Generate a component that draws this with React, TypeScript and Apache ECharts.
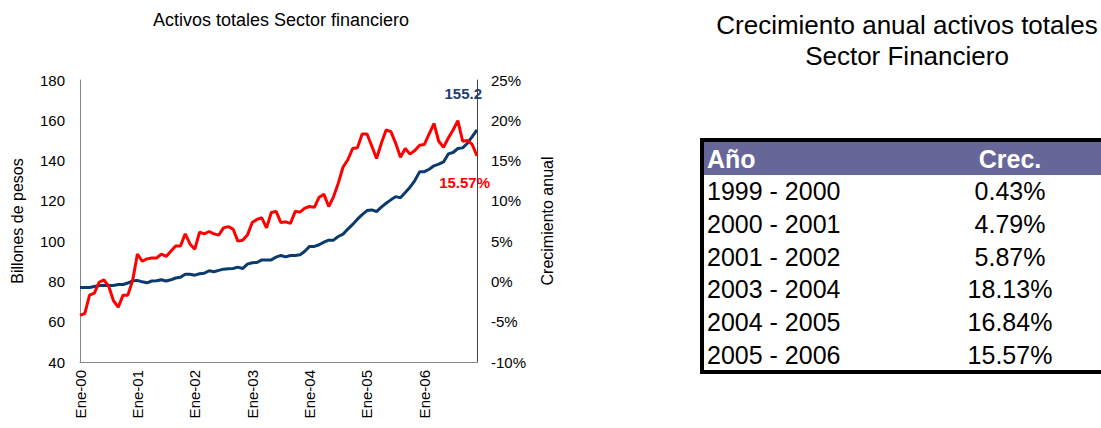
import React, { useEffect, useRef } from "react";
import * as echarts from "echarts";

const FONT = "'Liberation Sans', Arial, sans-serif";

const monthNames = ["Ene", "Feb", "Mar", "Abr", "May", "Jun", "Jul", "Ago", "Sep", "Oct", "Nov", "Dic"];
const yearSuffixes = ["00", "01", "02", "03", "04", "05", "06"];

// Activos totales (billones de pesos), mensual Ene-00 .. Dic-06
const activos = [
  77, 77, 77, 77.5, 78, 78, 78, 78, 78.5, 78.5, 79.2, 80.3,
  80.5, 79.8, 79.3, 80.2, 80.3, 80.8, 80.2, 80.8, 81.7, 82.1, 83.6, 83.6,
  83.1, 83.8, 84.1, 85.3, 84.8, 85.5, 86.1, 86.3, 86.4, 87.1, 86.4, 88.6,
  89.3, 89.4, 90.7, 90.7, 90.7, 92.1, 92.9, 92.2, 92.9, 92.9, 93.2, 95.0,
  97.4, 97.4, 98.2, 99.5, 100.5, 100.5, 102.3, 103.5, 106.0, 108.3, 110.9, 113.2,
  115.2, 115.5, 114.7, 116.9, 118.8, 120.5, 122.1, 121.5, 124.1, 126.8, 130.1, 134.4,
  134.5, 135.7, 137.4, 138.2, 139.3, 143.3, 144.0, 146.0, 146.3, 148.6, 151.9, 155.2,
];

// Crecimiento anual (%)
const crecimiento = [
  -4.2, -4.0, -1.7, -1.45, -0.1, 0.2, -0.6, -2.4, -3.2, -1.7, -1.7, 0.1,
  3.4, 2.5, 2.8, 2.9, 2.9, 3.4, 3.1, 3.75, 4.4, 4.4, 5.9, 4.65,
  4.0, 6.1, 5.9, 6.2, 5.9, 5.75, 6.65, 6.8, 6.5, 5.0, 5.1, 5.75,
  7.3, 7.7, 7.9, 6.65, 8.55, 8.7, 7.3, 7.4, 7.2, 8.7, 8.6, 9.1,
  9.3, 9.2, 10.45, 10.8, 9.3, 10.5, 12.2, 14.2, 15.1, 16.5, 16.6, 18.3,
  18.3, 16.8, 15.25, 17.15, 18.8, 18.6, 17.15, 15.4, 16.5, 15.8, 16.25, 16.9,
  17.0, 18.3, 19.6, 17.4, 16.65, 17.8, 18.8, 19.95, 17.4, 17.5, 17.0, 15.57,
];

const tablaPeriodos = ["1999 - 2000", "2000 - 2001", "2001 - 2002", "2003 - 2004", "2004 - 2005", "2005 - 2006"];
const tablaCrec = [0.43, 4.79, 5.87, 18.13, 16.84, 15.57];

const categories: string[] = [];
yearSuffixes.forEach((y) => monthNames.forEach((m) => categories.push(`${m}-${y}`)));

export default function App() {
  const ref = useRef<HTMLDivElement>(null);
  useEffect(() => {
    if (!ref.current) return;
    const chart = echarts.init(ref.current, undefined, { renderer: "svg" });

    const rowTop = 175;
    const rowH = 32.7;
    const tableGraphics: any[] = [
      {
        type: "rect",
        shape: { x: 702, y: 140, width: 440, height: 232 },
        style: { fill: "#fff", stroke: "#000", lineWidth: 4 },
      },
      {
        type: "rect",
        shape: { x: 704, y: 142, width: 420, height: 33 },
        style: { fill: "#666699" },
      },
      {
        type: "text",
        x: 707,
        y: 159,
        style: { text: "Año", fill: "#fff", font: `bold 25px ${FONT}`, textAlign: "left", textVerticalAlign: "middle" },
      },
      {
        type: "text",
        x: 1010,
        y: 159,
        style: { text: "Crec.", fill: "#fff", font: `bold 25px ${FONT}`, textAlign: "center", textVerticalAlign: "middle" },
      },
    ];
    tablaPeriodos.forEach((p, i) => {
      const cy = rowTop + rowH * i + rowH / 2;
      tableGraphics.push({
        type: "text",
        x: 707,
        y: cy,
        style: { text: p, fill: "#000", font: `25px ${FONT}`, textAlign: "left", textVerticalAlign: "middle" },
      });
      tableGraphics.push({
        type: "text",
        x: 1010,
        y: cy,
        style: {
          text: tablaCrec[i].toFixed(2) + "%",
          fill: "#000",
          font: `25px ${FONT}`,
          textAlign: "center",
          textVerticalAlign: "middle",
        },
      });
    });

    const option: any = {
      animation: false,
      backgroundColor: "#fff",
      textStyle: { fontFamily: FONT },
      title: [
        {
          text: "Activos totales Sector financiero",
          left: 281,
          top: 11,
          textAlign: "center",
          padding: 0,
          textStyle: { fontSize: 18, fontWeight: "normal", color: "#000", fontFamily: FONT },
        },
      ],
      grid: { left: 80, top: 80, width: 397, height: 282, containLabel: false },
      xAxis: {
        type: "category",
        data: categories,
        boundaryGap: false,
        axisLine: { show: true, onZero: false, lineStyle: { color: "#888", width: 1 } },
        axisTick: { show: false },
        axisLabel: {
          interval: 11,
          rotate: 90,
          margin: 8,
          fontSize: 15,
          color: "#000",
          fontFamily: FONT,
        },
        splitLine: { show: false },
      },
      yAxis: [
        {
          type: "value",
          min: 40,
          max: 180,
          interval: 20,
          name: "Billones de pesos",
          nameLocation: "middle",
          nameRotate: 90,
          nameGap: 55,
          nameTextStyle: { fontSize: 16, color: "#000", fontFamily: FONT },
          axisLine: { show: true, lineStyle: { color: "#888", width: 1 } },
          axisTick: { show: false },
          axisLabel: { fontSize: 15, color: "#000", margin: 15, fontFamily: FONT },
          splitLine: { show: false },
        },
        {
          type: "value",
          min: -10,
          max: 25,
          interval: 5,
          position: "right",
          name: "Crecimiento anual",
          nameLocation: "middle",
          nameRotate: 90,
          nameGap: 62,
          nameTextStyle: { fontSize: 16, color: "#000", fontFamily: FONT },
          axisLine: { show: true, lineStyle: { color: "#444", width: 1 } },
          axisTick: { show: false },
          axisLabel: { fontSize: 15, color: "#000", margin: 14, formatter: "{value}%", fontFamily: FONT },
          splitLine: { show: false },
        },
      ],
      series: [
        {
          type: "line",
          name: "Activos totales",
          yAxisIndex: 0,
          data: activos,
          showSymbol: false,
          symbol: "none",
          lineStyle: { color: "#0b3a6e", width: 3 },
          itemStyle: { color: "#0b3a6e" },
          endLabel: {
            show: true,
            formatter: () => activos[activos.length - 1].toFixed(1),
            align: "right",
            distance: 0,
            offset: [5, -36],
            color: "#1f3d6e",
            fontWeight: "bold",
            fontSize: 15,
            fontFamily: FONT,
          },
          z: 2,
        },
        {
          type: "line",
          name: "Crecimiento anual",
          yAxisIndex: 1,
          data: crecimiento,
          showSymbol: false,
          symbol: "none",
          lineStyle: { color: "#ff0000", width: 3 },
          itemStyle: { color: "#ff0000" },
          endLabel: {
            show: true,
            formatter: () => crecimiento[crecimiento.length - 1].toFixed(2) + "%",
            align: "right",
            distance: 0,
            offset: [13, 27],
            color: "#ff0000",
            fontWeight: "bold",
            fontSize: 15,
            fontFamily: FONT,
          },
          z: 3,
        },
      ],
      graphic: [
        {
          type: "text",
          x: 907,
          y: 9,
          style: {
            text: "Crecimiento anual activos totales\nSector Financiero",
            fill: "#000",
            font: `26px ${FONT}`,
            textAlign: "center",
            lineHeight: 31,
          },
        },
        ...tableGraphics,
      ],
    };
    chart.setOption(option);
    return () => chart.dispose();
  }, []);
  return (
    <div
      ref={ref}
      style={{ position: "absolute", left: 0, top: 0, width: 1101, height: 428, background: "#fff" }}
    />
  );
}
